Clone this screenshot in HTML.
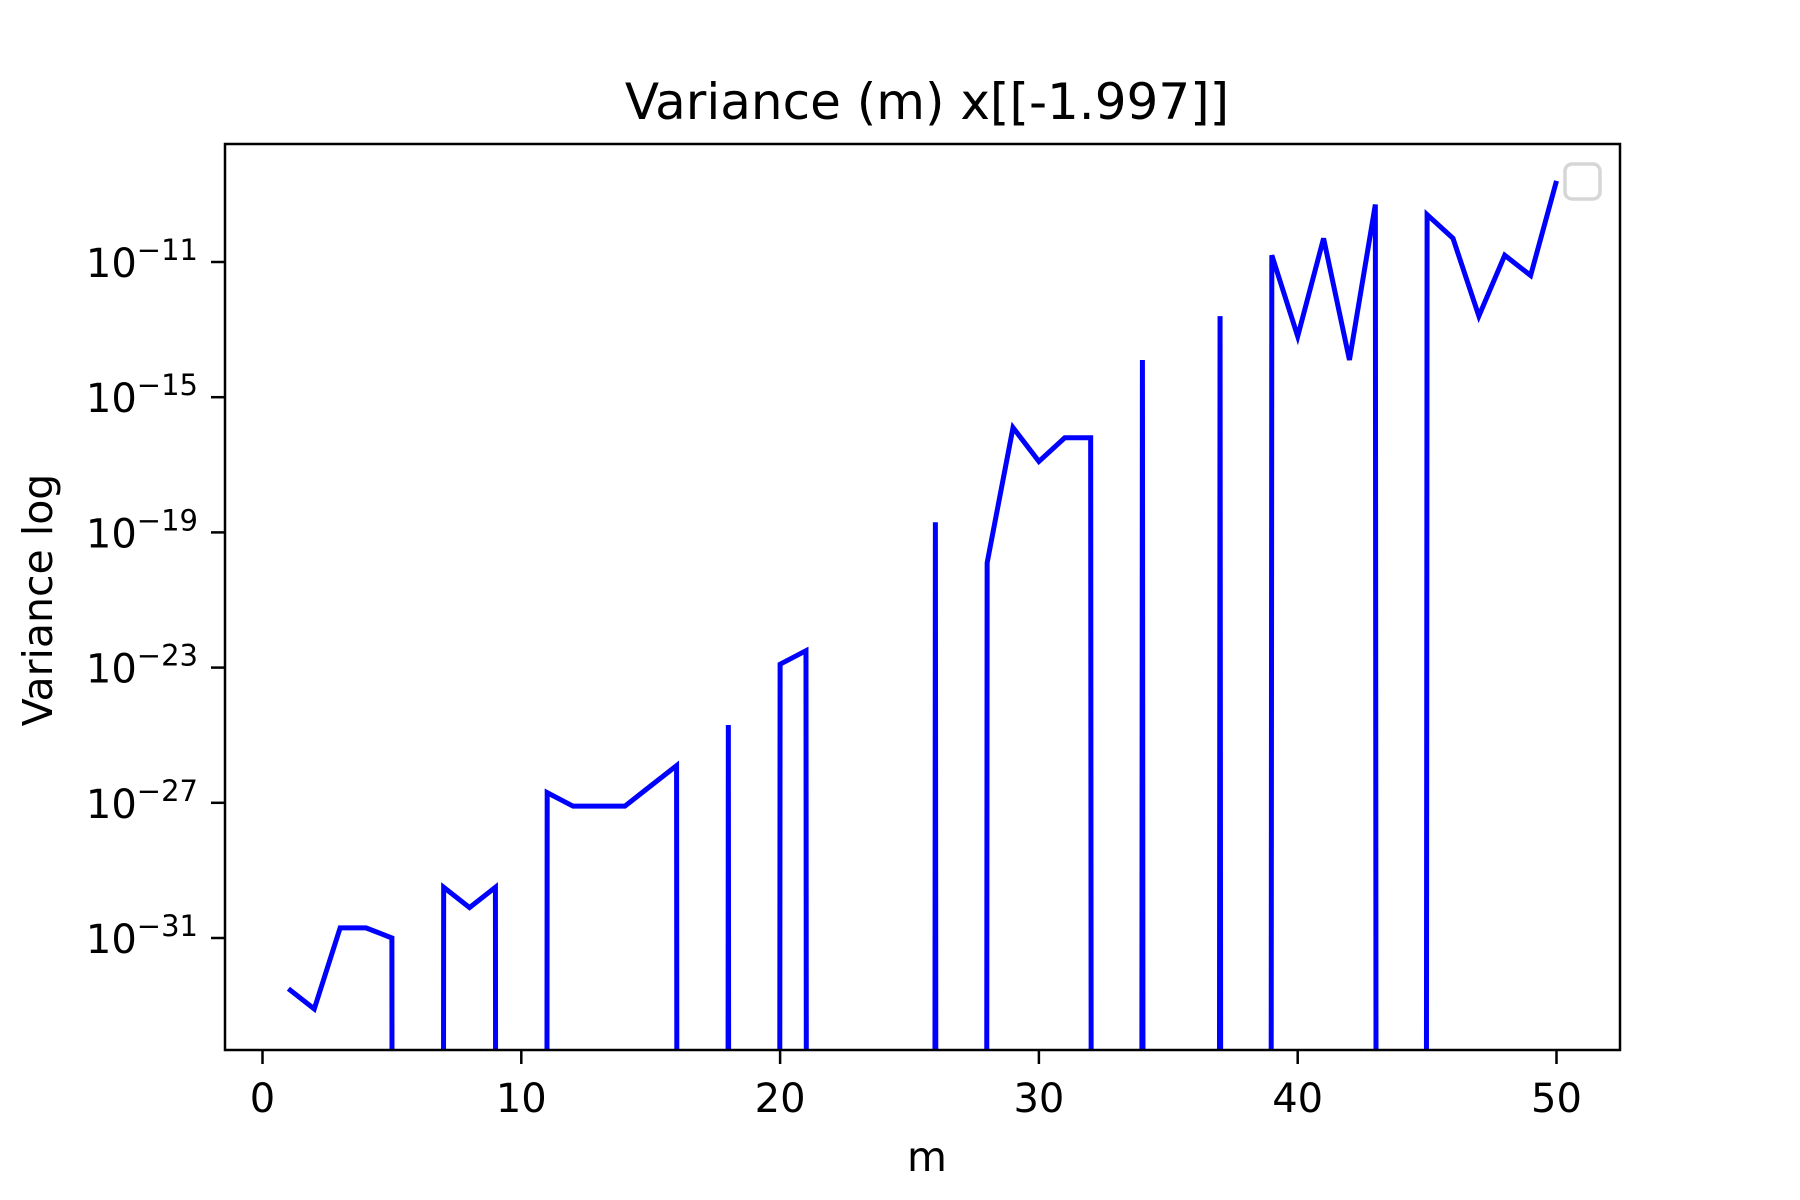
<!DOCTYPE html>
<html><head><meta charset="utf-8"><style>
html,body{margin:0;padding:0;background:#fff;overflow:hidden;width:1800px;height:1200px;}
svg{display:block;font-family:"DejaVu Sans","Liberation Sans",sans-serif;}
</style></head><body>
<svg id="chart" width="1800" height="1200" viewBox="0 0 1800 1200">
<rect width="1800" height="1200" fill="#fff"/>
<defs><clipPath id="clip"><rect x="225" y="144" width="1395" height="906"/></clipPath></defs>
<text x="927" y="119" font-size="50" text-anchor="middle">Variance (m) x[[-1.997]]</text>
<g id="series" clip-path="url(#clip)"></g>
<rect x="225" y="144" width="1395" height="906" fill="none" stroke="#000" stroke-width="2.5"/>
<g id="xticks"></g>
<g id="yticks"></g>
<text x="927" y="1171" font-size="41" text-anchor="middle">m</text>
<text transform="translate(52,600) rotate(-90)" font-size="41" text-anchor="middle">Variance log</text>
<rect x="1565" y="164" width="35" height="35" rx="7" fill="#fff" stroke="#d6d6d6" stroke-width="3.5"/>
</svg>
<script>
const mValues = [1,2,3,4,5,6,7,8,9,10,11,12,13,14,15,16,17,18,19,20,21,22,23,24,25,26,27,28,29,30,31,32,33,34,35,36,37,38,39,40,41,42,43,44,45,46,47,48,49,50];
// log10 of variance; null = zero variance
const logVariance = [-32.5,-33.1,-30.7,-30.7,-31.0,null,-29.5,-30.1,-29.5,null,-26.7,-27.1,-27.1,-27.1,-26.5,-25.9,null,-24.7,null,-22.9,-22.5,null,null,null,null,-18.7,null,-19.9,-15.9,-16.9,-16.2,-16.2,null,-13.9,null,null,-12.6,null,-10.8,-13.2,-10.3,-13.9,-9.3,null,-9.6,-10.3,-12.6,-10.8,-11.4,-8.6];
const xTicks = [0,10,20,30,40,50];
const yTicks = [-11,-15,-19,-23,-27,-31];

const NS = "http://www.w3.org/2000/svg";
function xs(v){ return 262.5 + (v) * 25.88; }
function ys(e){ return 262 + (-11 - e) * 33.8; }

const series = document.getElementById('series');
let d = '';
mValues.forEach((m,i)=>{
  const e = logVariance[i] === null ? -1000 : logVariance[i];
  d += (i===0?'M':'L') + xs(m).toFixed(2) + ',' + ys(e).toFixed(2);
});
const path = document.createElementNS(NS,'path');
path.setAttribute('d', d);
path.setAttribute('fill','none');
path.setAttribute('stroke','#0000ff');
path.setAttribute('stroke-width','5');
path.setAttribute('stroke-linejoin','miter');


series.appendChild(path);

const xg = document.getElementById('xticks');
xTicks.forEach(t=>{
  const x = xs(t);
  const ln = document.createElementNS(NS,'line');
  ln.setAttribute('x1',x); ln.setAttribute('x2',x);
  ln.setAttribute('y1',1050); ln.setAttribute('y2',1064);
  ln.setAttribute('stroke','#000'); ln.setAttribute('stroke-width','2.5');
  
  
  xg.appendChild(ln);
  const tx = document.createElementNS(NS,'text');
  tx.setAttribute('x',x); tx.setAttribute('y',1112);
  tx.setAttribute('font-size','40'); tx.setAttribute('text-anchor','middle');
  tx.textContent = t;
  
  
  xg.appendChild(tx);
});

const yg = document.getElementById('yticks');
yTicks.forEach(t=>{
  const y = ys(t);
  const ln = document.createElementNS(NS,'line');
  ln.setAttribute('x1',211); ln.setAttribute('x2',225);
  ln.setAttribute('y1',y); ln.setAttribute('y2',y);
  ln.setAttribute('stroke','#000'); ln.setAttribute('stroke-width','2.5');
  
  
  yg.appendChild(ln);
  const tx = document.createElementNS(NS,'text');
  tx.setAttribute('x',198); tx.setAttribute('y',y+15);
  tx.setAttribute('font-size','40'); tx.setAttribute('text-anchor','end');
  
  
  const base = document.createElementNS(NS,'tspan');
  base.textContent = '10';
  const sup = document.createElementNS(NS,'tspan');
  sup.setAttribute('dy','-17'); sup.setAttribute('font-size','29');
  sup.textContent = '\u2212' + Math.abs(t);
  tx.appendChild(base); tx.appendChild(sup);
  yg.appendChild(tx);
});
</script>
</body></html>
